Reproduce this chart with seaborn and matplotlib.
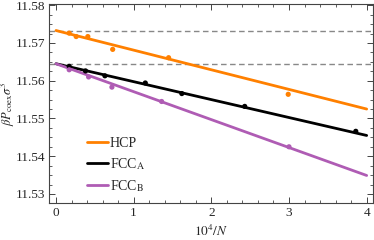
import numpy as np
import pandas as pd
import matplotlib
matplotlib.use("Agg")
import matplotlib.pyplot as plt
import seaborn as sns
from matplotlib.ticker import MultipleLocator

# data
hcp_x = [0.17, 0.26, 0.41, 0.73, 1.45, 2.99]
hcp_y = [11.5726, 11.5717, 11.5717, 11.5683, 11.5661, 11.5564]
fcca_x = [0.17, 0.38, 0.63, 1.15, 1.62, 2.43, 3.86]
fcca_y = [11.5638, 11.5626, 11.5613, 11.5594, 11.5566, 11.5532, 11.5466]
fccb_x = [0.17, 0.42, 0.72, 1.36, 3.00]
fccb_y = [11.5629, 11.5610, 11.5583, 11.5545, 11.5425]

series = ["HCP", "FCC$_{\\rm A}$", "FCC$_{\\rm B}$"]
fit_intercepts = [11.5733, 11.5645, 11.5645]
fit_slopes = [-0.0052, -0.00475, -0.0074]
fit_x = [0.0, 4.0]
colors = ["#FF8000", "#000000", "#AF5CB4"]

sns.set_theme(style="ticks")
plt.rcParams["font.family"] = ["Liberation Serif", "DejaVu Serif"]
plt.rcParams["mathtext.fontset"] = "stix"

fig = plt.figure(figsize=(3.74, 2.40), dpi=100)
ax = fig.add_axes([0.131, 0.154, 0.866, 0.829])

xs = [hcp_x, fcca_x, fccb_x]
ys = [hcp_y, fcca_y, fccb_y]
for name, x, y, b, m, c in zip(series, xs, ys, fit_intercepts, fit_slopes, colors):
    fx = np.array(fit_x)
    fit = pd.DataFrame({"x": fx, "y": b + m * fx})
    sns.lineplot(data=fit, x="x", y="y", ax=ax, color=c, lw=2.0, label=name)
    pts = pd.DataFrame({"x": x, "y": y})
    sns.scatterplot(data=pts, x="x", y="y", ax=ax, color=c, s=14, edgecolor="none", zorder=3)

for b in sorted(set(fit_intercepts)):
    ax.axhline(b, color="#888888", ls=(0, (4, 2.5)), lw=1.0, zorder=1)

ax.set_xlim(-0.09, 4.08)
ax.set_ylim(11.5276, 11.5803)
ax.xaxis.set_major_locator(MultipleLocator(1))
ax.xaxis.set_minor_locator(MultipleLocator(0.2))
ax.yaxis.set_major_locator(MultipleLocator(0.01))
ax.yaxis.set_minor_locator(MultipleLocator(0.0025))
ax.yaxis.set_major_formatter(matplotlib.ticker.FormatStrFormatter("%.2f"))
ax.tick_params(which="both", direction="in", top=True, right=True, labelsize=9.5,
               color="#444444", pad=2.5)
ax.tick_params(which="major", length=4, width=0.7)
ax.tick_params(which="minor", length=2, width=0.6)
for s in ax.spines.values():
    s.set_color("#444444")
    s.set_linewidth(0.8)

ax.set_xlabel("$10^4/N$", fontsize=9.5, labelpad=4)
ax.set_ylabel("$\\beta P_{\\rm coex}\\sigma^3$", fontsize=9)
ax.yaxis.set_label_coords(-0.098, 0.5)

handles, labels = ax.get_legend_handles_labels()
ax.legend(handles[:3], labels[:3], loc="center left", bbox_to_anchor=(0.08, 0.19),
          frameon=False, fontsize=10, handlelength=1.5, handletextpad=0.1,
          labelspacing=0.45)

fig.savefig("out.png", dpi=100)
